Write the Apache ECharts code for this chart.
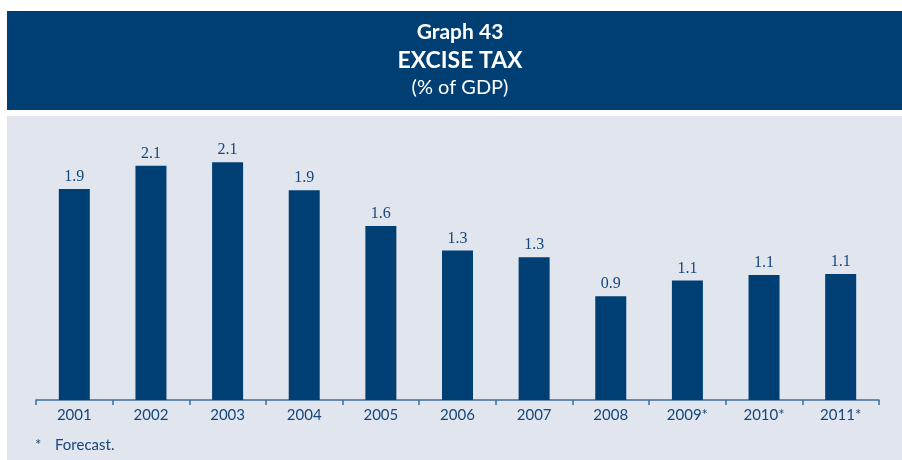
<!DOCTYPE html>
<html>
<head>
<meta charset="utf-8">
<script src="https://cdn.jsdelivr.net/npm/echarts@6/dist/echarts.min.js"></script>
<style>
  html, body { margin: 0; padding: 0; background: #ffffff; }
  #chart { width: 902px; height: 460px; }
</style>
</head>
<body>
<div id="chart"></div>
<script>
// Excise tax revenue, % of GDP (2009-2011 are forecasts)
const years = ['2001', '2002', '2003', '2004', '2005', '2006', '2007', '2008', '2009*', '2010*', '2011*'];
const exciseShare = [1.89, 2.10, 2.13, 1.88, 1.56, 1.34, 1.28, 0.93, 1.07, 1.12, 1.13];
const titleLines = ['Graph 43', 'EXCISE TAX', '(% of GDP)'];
const footnote = 'Forecast.';

const NAVY = '#003f74';
const PANEL = '#e0e5ee';
const INK = '#17467a';

const chart = echarts.init(document.getElementById('chart'), null, { renderer: 'canvas' });

chart.setOption({
  backgroundColor: '#ffffff',
  animation: false,
  graphic: [
    { type: 'rect', z: -10, silent: true, shape: { x: 7, y: 11, width: 895, height: 99 }, style: { fill: NAVY } },
    { type: 'rect', z: -10, silent: true, shape: { x: 7, y: 116, width: 895, height: 344 }, style: { fill: PANEL } },
    { type: 'text', x: 460, y: 32, style: { text: titleLines[0], fill: '#ffffff', font: 'bold 21px Lato', align: 'center', verticalAlign: 'middle' } },
    { type: 'text', x: 460, y: 61, style: { text: titleLines[1], fill: '#ffffff', font: 'bold 23px Lato', align: 'center', verticalAlign: 'middle' } },
    { type: 'text', x: 460, y: 88, style: { text: titleLines[2], fill: '#ffffff', font: '20px Lato', align: 'center', verticalAlign: 'middle' } },
    { type: 'text', x: 35, y: 445, style: { text: '*', fill: INK, font: '15px Lato', align: 'left', verticalAlign: 'middle' } },
    { type: 'text', x: 55, y: 445, style: { text: footnote, fill: INK, font: '15px Lato', align: 'left', verticalAlign: 'middle' } }
  ],
  grid: { left: 36, right: 23, top: 121, bottom: 60 },
  xAxis: {
    type: 'category',
    data: years,
    boundaryGap: true,
    axisLine: { show: true, lineStyle: { color: '#3f6c9c', width: 1.5 } },
    axisTick: { show: true, alignWithLabel: false, length: 5, inside: false, lineStyle: { color: '#3f6c9c', width: 1.5 } },
    axisLabel: { color: INK, fontFamily: 'Lato', fontSize: 15, margin: 8 },
    splitLine: { show: false }
  },
  yAxis: {
    type: 'value',
    min: 0,
    max: 2.5,
    show: false
  },
  series: [{
    type: 'bar',
    data: exciseShare,
    barWidth: 31,
    itemStyle: { color: NAVY },
    label: {
      show: true,
      position: 'top',
      distance: 4,
      color: INK,
      fontFamily: 'Liberation Serif',
      fontSize: 16,
      formatter: p => p.value.toFixed(1)
    }
  }]
});
</script>
</body>
</html>
